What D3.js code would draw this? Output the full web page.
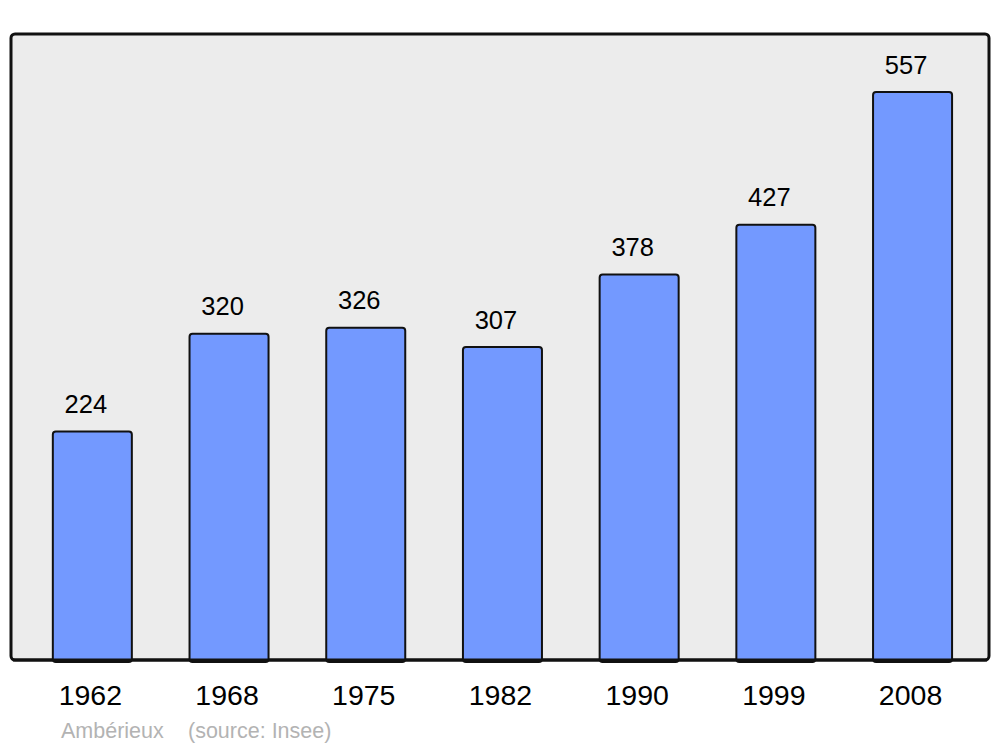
<!DOCTYPE html>
<html>
<head>
<meta charset="utf-8">
<script src="https://cdn.jsdelivr.net/npm/d3@7"></script>
<style>
  html, body { margin: 0; padding: 0; background: #ffffff; }
  svg { display: block; }
</style>
</head>
<body>
<script>
const years = ["1962", "1968", "1975", "1982", "1990", "1999", "2008"];
const population = [224, 320, 326, 307, 378, 427, 557];
const footerPlace = "Ambérieux";
const footerSource = "(source: Insee)";

const W = 1000, H = 747;
const frame = { left: 11, right: 989, top: 34, bottom: 660 };
const FONT = "Liberation Sans, Arial, sans-serif";

const svg = d3.select("body").append("svg").attr("width", W).attr("height", H);

svg.append("rect")
  .attr("x", frame.left).attr("y", frame.top)
  .attr("width", frame.right - frame.left).attr("height", frame.bottom - frame.top)
  .attr("rx", 4).attr("ry", 4)
  .attr("fill", "#ececec").attr("stroke", "#111").attr("stroke-width", 3);

const x = d3.scaleBand().domain(years).range([11, 993.9]).paddingInner(0.422).paddingOuter(0.306);
const y = d3.scaleLinear().domain([0, 614]).range([frame.bottom, frame.top]);

const data = years.map((yr, i) => ({ year: yr, value: population[i] }));

svg.append("g").selectAll("rect").data(data).join("rect")
  .attr("x", d => x(d.year))
  .attr("y", d => y(d.value))
  .attr("width", x.bandwidth())
  .attr("height", d => y(0) - y(d.value) + 2)
  .attr("rx", 3).attr("ry", 3)
  .attr("fill", "#7399ff").attr("stroke", "#111").attr("stroke-width", 2);

svg.append("line")
  .attr("x1", frame.left + 2).attr("x2", frame.right - 2)
  .attr("y1", frame.bottom).attr("y2", frame.bottom)
  .attr("stroke", "#111").attr("stroke-width", 3);

svg.append("g").selectAll("text").data(data).join("text")
  .attr("x", d => x(d.year) + x.bandwidth() / 2 - 6.5)
  .attr("y", d => y(d.value) - 18.5)
  .attr("text-anchor", "middle")
  .attr("font-family", FONT)
  .attr("font-size", 25.5)
  .attr("fill", "#000")
  .text(d => d.value);

const xAxis = d3.axisBottom(x).tickSize(0).tickPadding(0);
const gx = svg.append("g").attr("transform", `translate(0, ${frame.bottom})`).call(xAxis);
gx.select(".domain").remove();
gx.selectAll("text")
  .attr("x", -2)
  .attr("y", 44.5).attr("dy", null)
  .attr("font-family", FONT)
  .attr("font-size", 28.5)
  .attr("fill", "#000");

svg.append("text")
  .attr("x", 61).attr("y", 738)
  .attr("font-family", FONT)
  .attr("font-size", 21.5)
  .attr("fill", "#b3b3b3")
  .text(footerPlace);
svg.append("text")
  .attr("x", 188).attr("y", 738)
  .attr("font-family", FONT)
  .attr("font-size", 21.5)
  .attr("fill", "#b3b3b3")
  .text(footerSource);
</script>
</body>
</html>
